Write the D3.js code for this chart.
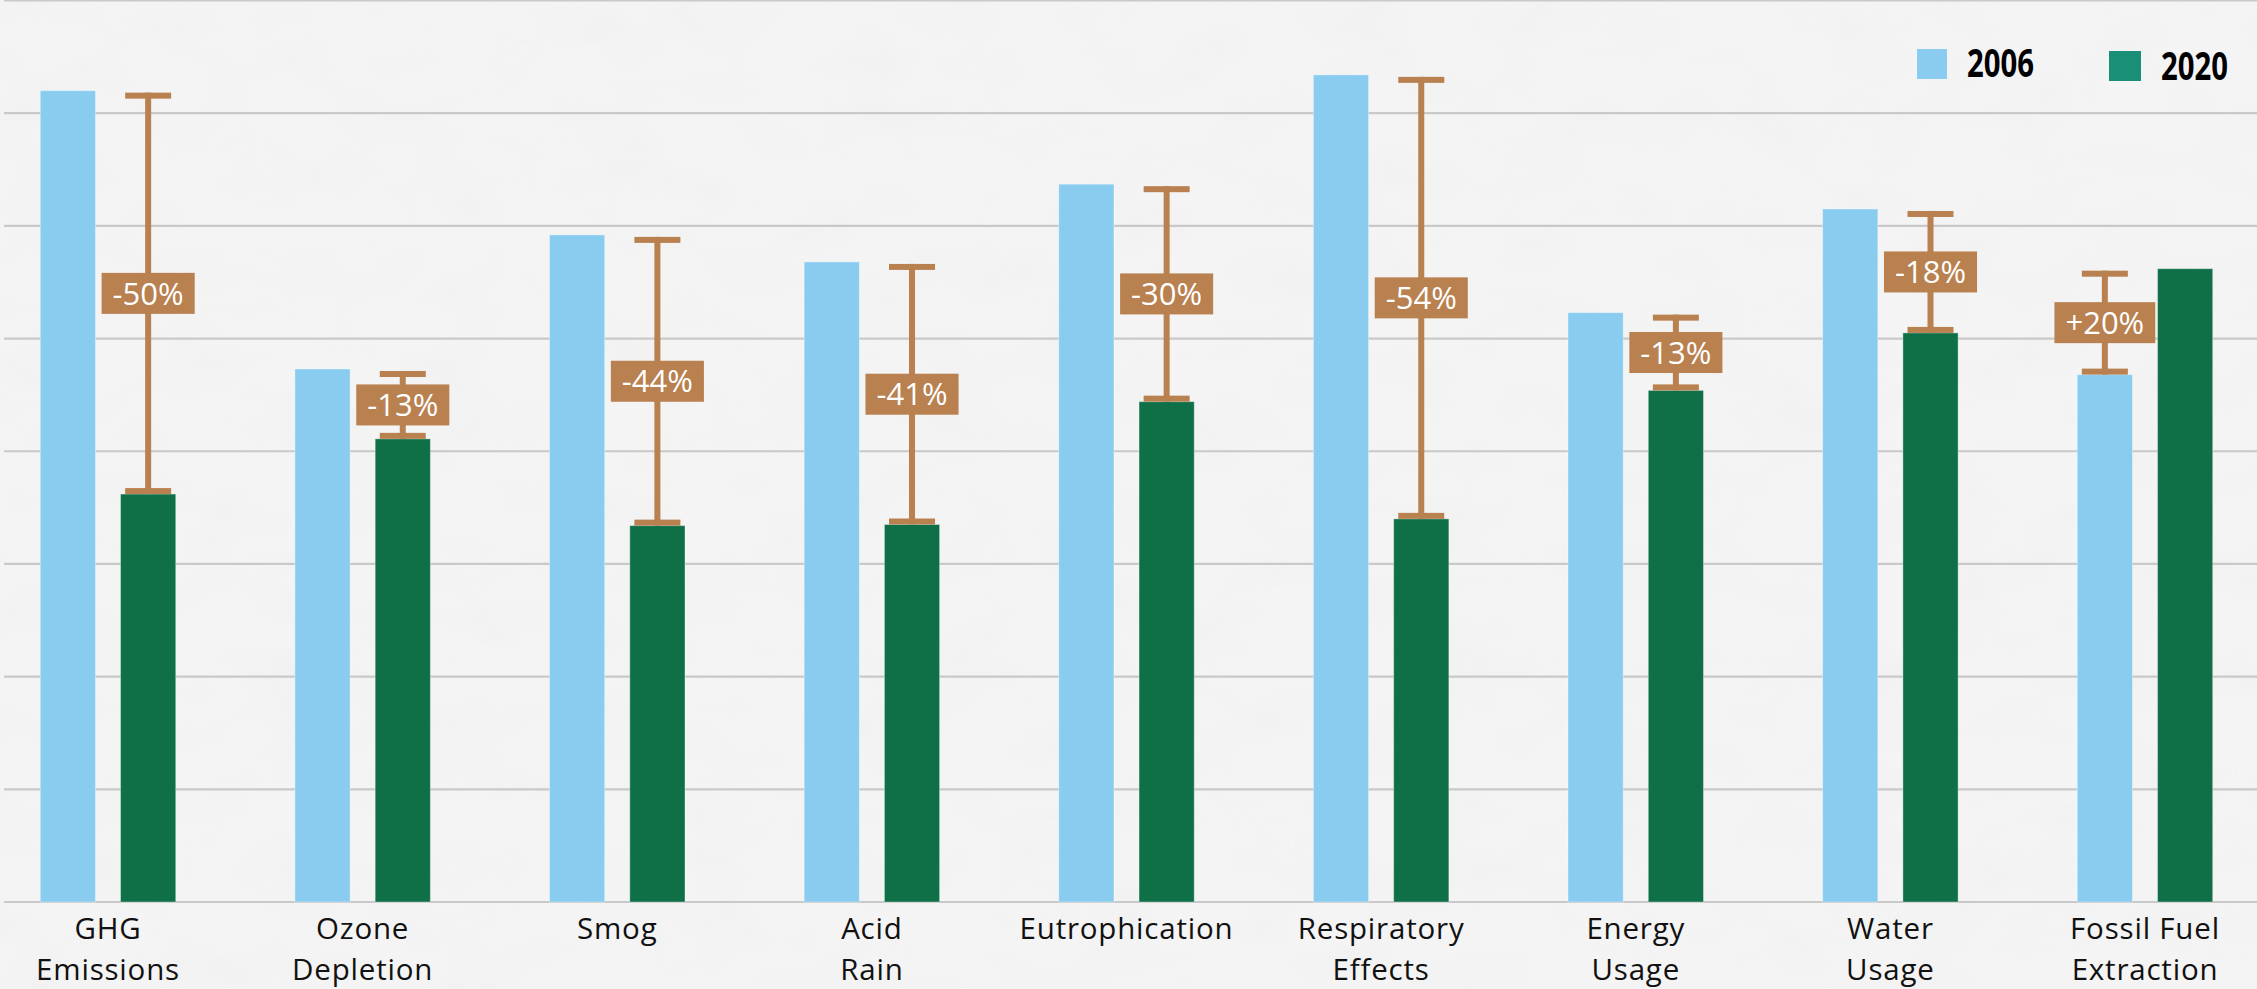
<!DOCTYPE html>
<html>
<head>
<meta charset="utf-8">
<script src="https://cdn.jsdelivr.net/npm/d3@7/dist/d3.min.js"></script>
<style>
  html, body { margin: 0; padding: 0; background: #f4f4f4; }
  svg { display: block; }
</style>
</head>
<body>
<script>
// Environmental impact indicators, 2006 vs 2020 (relative units)
const categories = [
  "GHG\nEmissions", "Ozone\nDepletion", "Smog", "Acid\nRain", "Eutrophication",
  "Respiratory\nEffects", "Energy\nUsage", "Water\nUsage", "Fossil Fuel\nExtraction"
];
const values2006 = [7.20, 4.73, 5.92, 5.68, 6.37, 7.34, 5.23, 6.15, 4.68];
const values2020 = [3.62, 4.11, 3.34, 3.35, 4.44, 3.40, 4.54, 5.05, 5.62];
const seriesNames = ["2006", "2020"];
const yTicks = [0, 1, 2, 3, 4, 5, 6, 7, 8];

const W = 2257, H = 989;
const colors = { "2006": "#89ccf0", "2020": "#0f7048" };
const legendColors = { "2006": "#89ccf0", "2020": "#1a8f78" };
const brown = "#b98050";

const svg = d3.select("body").append("svg")
  .attr("width", W).attr("height", H);

// paper-like background
const defs = svg.append("defs");
const tex = defs.append("filter").attr("id", "paper")
  .attr("x", 0).attr("y", 0).attr("width", "100%").attr("height", "100%");
tex.append("feTurbulence").attr("type", "fractalNoise")
  .attr("baseFrequency", "0.012 0.02").attr("numOctaves", 3).attr("seed", 7).attr("result", "n");
tex.append("feColorMatrix").attr("type", "matrix")
  .attr("values", "0 0 0 0 0.55  0 0 0 0 0.55  0 0 0 0 0.55  1 0 0 0 -0.45");
svg.append("rect").attr("width", W).attr("height", H).attr("fill", "#f4f4f4");
svg.append("rect").attr("width", W).attr("height", H).attr("fill", "#fff")
  .attr("filter", "url(#paper)").attr("opacity", 0.12);

// scales
const x0 = d3.scaleBand().domain(categories).range([-19.3, 2272.3])
  .paddingInner(0.468).paddingOuter(0.234);
const x1 = d3.scaleBand().domain(seriesNames).range([0, x0.bandwidth()])
  .paddingInner(0.3125);
const y = d3.scaleLinear().domain([0, 8]).range([902, 0.5]);

// horizontal gridlines
svg.append("g").selectAll("line").data(yTicks).join("line")
  .attr("x1", 4).attr("x2", W)
  .attr("y1", d => y(d)).attr("y2", d => y(d))
  .attr("stroke", "#c9c9c9").attr("stroke-width", 2.2);

const rows = categories.map((c, i) => ({
  cat: c, v: { "2006": values2006[i], "2020": values2020[i] }
}));

// bars
const groups = svg.append("g").selectAll("g").data(rows).join("g")
  .attr("transform", d => `translate(${x0(d.cat)},0)`);
groups.selectAll("rect").data(d => seriesNames.map(s => ({ s, v: d.v[s] }))).join("rect")
  .attr("x", d => x1(d.s))
  .attr("width", x1.bandwidth())
  .attr("y", d => y(d.v))
  .attr("height", d => y(0) - y(d.v))
  .attr("fill", d => colors[d.s])
  .attr("stroke", "rgba(255,255,255,0.35)").attr("stroke-width", 1);

// change whiskers with percentage labels
const capW = 46, capH = 6;
rows.forEach(d => {
  const a = d.v["2006"], b = d.v["2020"];
  const lowSeries = b < a ? "2020" : "2006";
  const cx = x0(d.cat) + x1(lowSeries) + x1.bandwidth() / 2;
  const yHi = y(Math.max(a, b)) + 2, yLo = y(Math.min(a, b));
  const g = svg.append("g");
  g.append("rect").attr("x", cx - 3).attr("width", 6)
    .attr("y", yHi).attr("height", yLo - yHi).attr("fill", brown);
  g.append("rect").attr("x", cx - capW / 2).attr("width", capW)
    .attr("y", yHi).attr("height", capH).attr("fill", brown);
  g.append("rect").attr("x", cx - capW / 2).attr("width", capW)
    .attr("y", yLo - capH).attr("height", capH).attr("fill", brown);

  const pct = Math.round((b / a - 1) * 100);
  const label = (pct > 0 ? "+" : "-") + Math.abs(pct) + "%";
  const cy = (yHi + yLo) / 2;
  const box = g.append("rect").attr("fill", brown);
  const t = g.append("text").attr("x", cx).attr("y", cy).attr("dy", "0.36em")
    .attr("text-anchor", "middle")
    .attr("font-family", "'Open Sans', sans-serif").attr("font-size", 31)
    .attr("fill", "#fff").text(label);
  const tw = t.node().getComputedTextLength();
  const bw = tw + 22;
  box.attr("x", cx - bw / 2).attr("width", bw).attr("y", cy - 20.5).attr("height", 41);
});

// category labels (two lines at most)
svg.append("g").selectAll("text").data(categories).join("text")
  .attr("text-anchor", "middle")
  .attr("font-family", "'Open Sans', sans-serif").attr("font-size", 29.5)
  .attr("letter-spacing", 0.8)
  .attr("fill", "#111")
  .attr("transform", d => `translate(${x0(d) + x0.bandwidth() / 2},0)`)
  .each(function (d) {
    d.split("\n").forEach((line, i) => {
      d3.select(this).append("tspan").attr("x", 0).attr("y", 939.2 + i * 40.3).text(line);
    });
  });

// legend
const legendItems = [
  { s: "2006", sx: 1917, sy: 49, sw: 30, sh: 30, tx: 1967, ty: 77 },
  { s: "2020", sx: 2109, sy: 51, sw: 32, sh: 30, tx: 2161, ty: 80 }
];
const lg = svg.append("g");
legendItems.forEach(it => {
  lg.append("rect").attr("x", it.sx).attr("y", it.sy).attr("width", it.sw).attr("height", it.sh)
    .attr("fill", legendColors[it.s]);
  lg.append("text").attr("x", it.tx).attr("y", it.ty)
    .attr("font-family", "'Open Sans', sans-serif").attr("font-weight", 700)
    .attr("font-size", 39).attr("fill", "#000")
    .attr("textLength", 67).attr("lengthAdjust", "spacingAndGlyphs")
    .text(it.s);
});
</script>
</body>
</html>
